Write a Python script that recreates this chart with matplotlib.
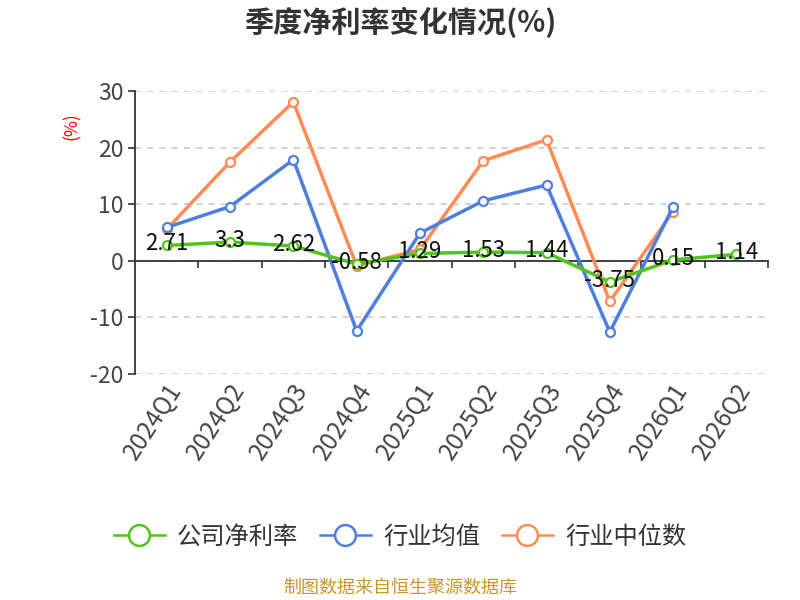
import matplotlib
matplotlib.use("Agg")
import matplotlib.pyplot as plt
import matplotlib.transforms as mtransforms

plt.rcParams['font.family'] = ['Noto Sans CJK SC', 'DejaVu Sans']
plt.rcParams['axes.unicode_minus'] = False

quarters = ["2024Q1", "2024Q2", "2024Q3", "2024Q4", "2025Q1",
            "2025Q2", "2025Q3", "2025Q4", "2026Q1", "2026Q2"]
company = [2.71, 3.3, 2.62, -0.58, 1.29, 1.53, 1.44, -3.75, 0.15, 1.14]
ind_mean = [5.9, 9.6, 17.9, -12.4, 4.9, 10.6, 13.4, -12.6, 9.5, None]
ind_median = [5.6, 17.5, 28.1, -0.9, 2.0, 17.7, 21.4, -7.2, 8.7, None]

green = "#52c41a"
blue = "#4e7fe0"
orange = "#ff8b55"

fig = plt.figure(figsize=(8, 6), dpi=100)
ax = fig.add_axes([0.169, 0.377, 0.791, 0.471])

x = list(range(len(quarters)))


def draw(vals, color, label, z):
    xs = [i for i, v in zip(x, vals) if v is not None]
    ys = [v for v in vals if v is not None]
    ax.plot(xs, ys, color=color, lw=2.5, marker='o', ms=6.5,
            mfc='white', mec=color, mew=1.6, label=label, zorder=z)


draw(company, green, "公司净利率", 5)
draw(ind_mean, blue, "行业均值", 4)
draw(ind_median, orange, "行业中位数", 3)

for i, v in zip(x, company):
    ax.text(i, v + 0.3, f"{v:g}", ha='center', va='center', fontsize=16,
            color='#111111', zorder=6)

ax.set_xlim(-0.5, len(quarters) - 0.5)
ax.set_ylim(-20, 30)
ax.set_yticks([-20, -10, 0, 10, 20, 30])
ax.tick_params(axis='y', labelsize=16.5, colors='#333333', length=5, width=1.2,
               labelcolor='#444444')
ax.grid(axis='y', linestyle=(0, (4, 4)), color='#c8c8c8', lw=1.1)
ax.set_axisbelow(True)

for s in ['top', 'right']:
    ax.spines[s].set_visible(False)
ax.spines['left'].set_color('#333333')
ax.spines['left'].set_linewidth(1.3)
ax.spines['bottom'].set_position(('data', 0))
ax.spines['bottom'].set_color('#333333')
ax.spines['bottom'].set_linewidth(1.3)
ax.set_xticks([i + 0.5 for i in range(len(quarters))])
ax.set_xticklabels([])
ax.tick_params(axis='x', direction='out', length=5, width=1.2, colors='#333333')

trans = mtransforms.blended_transform_factory(ax.transData, ax.transAxes)
for i, q in enumerate(quarters):
    ax.text(i - 0.02, -0.015, q, transform=trans, rotation=57, ha='right',
            va='top', rotation_mode='anchor', fontsize=17.5, color='#444444')

fig.text(0.09, 0.79, "(%)", color='red', rotation=90, ha='center',
         va='center', fontsize=12.5)

fig.text(0.5, 0.962, "季度净利率变化情况(%)", ha='center', va='center',
         fontsize=21, fontweight='bold', color='#333333')

leg = fig.legend(loc='center', bbox_to_anchor=(0.5, 0.105), ncol=3,
                 frameon=False, fontsize=17.5, handlelength=2.1,
                 columnspacing=0.9, handletextpad=0.5)
for t in leg.get_texts():
    t.set_color('#333333')
for h in leg.legend_handles:
    h.set_markersize(15)
    h.set_markeredgewidth(1.8)
    h.set_linewidth(1.8)

fig.text(0.5, 0.02, "制图数据来自恒生聚源数据库", ha='center', va='center',
         fontsize=13, color='#c8962a')

fig.savefig("out.png", dpi=100)
